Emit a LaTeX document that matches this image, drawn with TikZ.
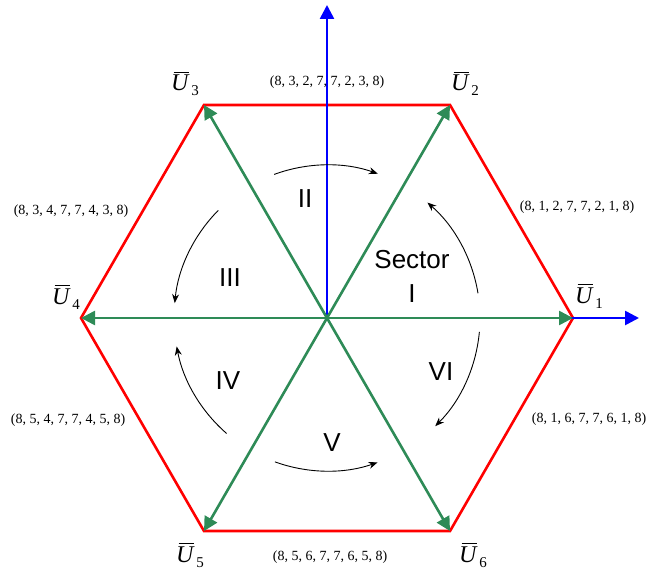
\documentclass[tikz,border=0pt]{standalone}
\usepackage{fontspec}
\setmainfont{Liberation Serif}
\setsansfont{Liberation Sans}
\usetikzlibrary{arrows.meta}
\definecolor{hexred}{RGB}{255,0,0}
\definecolor{vecgreen}{RGB}{46,139,87}
\definecolor{axblue}{RGB}{0,0,255}
\newcommand{\vlab}[1]{\makebox[0pt][l]{\hspace{2.5pt}\rule[18pt]{15pt}{1.3pt}}\textit{U}\kern1.5pt\raisebox{-5pt}{\fontsize{15}{15}\selectfont #1}}
\begin{document}
\begin{tikzpicture}[x=1pt,y=1pt,
  hexedge/.style={draw=hexred, line width=2.6pt, line join=miter},
  vec/.style={draw=vecgreen, line width=2.6pt, -{Triangle[length=14pt,width=14pt]}},
  axisline/.style={draw=axblue, line width=2.6pt, -{Triangle[length=14pt,width=14pt]}},
  rot/.style={draw=black, line width=0.9pt, -{Stealth[length=9pt,width=7pt]}},
  tuple/.style={font=\fontsize{14}{14}\selectfont, inner sep=0},
  sect/.style={font=\sffamily\fontsize{26}{34}\selectfont, inner sep=0, align=center},
  ulab/.style={font=\fontsize{24}{24}\selectfont, inner sep=0, anchor=base west}]
\useasboundingbox (0,0) rectangle (647,574);
\coordinate (O) at (327,256);
\foreach \i/\a in {1/0,2/60,3/120,4/180,5/240,6/300}
  \path (O) ++(\a:246) coordinate (V\i);
\coordinate (AX) at (639,256);
\coordinate (AY) at (327,569);
% hexagon
\draw[hexedge] (V1) -- (V2) -- (V3) -- (V4) -- (V5) -- (V6) -- cycle;
% axes
\draw[axisline] (O) -- (AX);
\draw[axisline] (O) -- (AY);
% voltage vectors
\foreach \i in {1,...,6} \draw[vec] (O) -- (V\i);
% rotation arcs
\draw[rot] ([shift={(110.2:153)}]O) arc[start angle=110.2, end angle=70.6, radius=153];
\draw[rot] ([shift={(9.3:153)}]O) arc[start angle=9.3, end angle=49, radius=153];
\draw[rot] ([shift={(-5.2:153)}]O) arc[start angle=-5.2, end angle=-45, radius=153];
\draw[rot] ([shift={(250.1:153)}]O) arc[start angle=250.1, end angle=289.3, radius=153];
\draw[rot] ([shift={(229:153)}]O) arc[start angle=229, end angle=190.7, radius=153];
\draw[rot] ([shift={(135.3:153)}]O) arc[start angle=135.3, end angle=174.4, radius=153];
% sector labels
\node[sect] (s1) at (412,298) {Sector\\I};
\node[sect] (s2) at (305,375) {II};
\node[sect] (s3) at (230,296) {III};
\node[sect] (s4) at (228,193) {IV};
\node[sect] (s5) at (332,131) {V};
\node[sect] (s6) at (441,202) {VI};
% vector labels
\node[ulab] (u1) at (575,271) {\vlab{1}};
\node[ulab] (u2) at (451,483) {\vlab{2}};
\node[ulab] (u3) at (171,483) {\vlab{3}};
\node[ulab] (u4) at (52,270) {\vlab{4}};
\node[ulab] (u5) at (176,12) {\vlab{5}};
\node[ulab] (u6) at (459,12) {\vlab{6}};
% switching sequences
\node[tuple] (t2) at (327,492) {(8, 3, 2, 7, 7, 2, 3, 8)};
\node[tuple] (t3) at (71,363) {(8, 3, 4, 7, 7, 4, 3, 8)};
\node[tuple] (t1) at (577,367) {(8, 1, 2, 7, 7, 2, 1, 8)};
\node[tuple] (t4) at (68,154) {(8, 5, 4, 7, 7, 4, 5, 8)};
\node[tuple] (t6) at (589,155) {(8, 1, 6, 7, 7, 6, 1, 8)};
\node[tuple] (t5) at (330,17) {(8, 5, 6, 7, 7, 6, 5, 8)};
\end{tikzpicture}
\end{document}
